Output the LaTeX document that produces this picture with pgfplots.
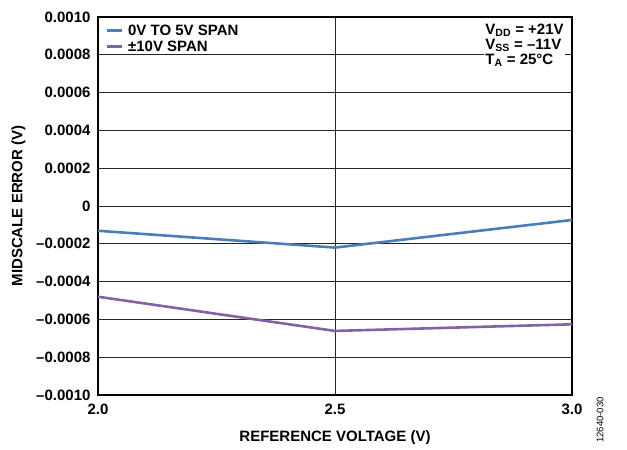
\documentclass[border=0pt]{standalone}
\usepackage{fontspec}
\setmainfont{Liberation Sans}
\usepackage{pgfplots}
\pgfplotsset{compat=1.18}
\definecolor{spanblue}{HTML}{4A7EBB}
\definecolor{spanpurple}{HTML}{7F63A6}
\begin{document}
\begin{tikzpicture}
\begin{axis}[
  scale only axis,
  width=474pt, height=378pt,
  xmin=2.0, xmax=3.0, ymin=-0.001, ymax=0.001,
  xtick={2.0,2.5,3.0},
  xticklabels={2.0,2.5,3.0},
  ytick={-0.001,-0.0008,-0.0006,-0.0004,-0.0002,0,0.0002,0.0004,0.0006,0.0008,0.001},
  yticklabels={--0.0010,--0.0008,--0.0006,--0.0004,--0.0002,0,0.0002,0.0004,0.0006,0.0008,0.0010},
  scaled y ticks=false,
  major tick length=0pt,
  grid=major,
  major grid style={black!85, line width=0.9pt},
  axis line style={black, line width=1.8pt},
  tick label style={font=\fontsize{15}{16}\selectfont\bfseries},
  xticklabel style={yshift=-5pt},
  yticklabel style={xshift=-4pt},
  xlabel={\textbf{REFERENCE VOLTAGE (V)}},
  ylabel={\textbf{MIDSCALE ERROR (V)}},
  label style={font=\fontsize{15}{16}\selectfont\bfseries},
  xlabel style={yshift=-10pt},
  ylabel style={yshift=4pt},
  legend style={at={(0.002,0.985)}, anchor=north west, draw=none, fill=white,
    font=\fontsize{15}{16}\selectfont\bfseries, row sep=4pt, column sep=4pt,
    inner xsep=6pt, inner ysep=1pt, cells={anchor=west},
    nodes={inner sep=1pt, text height=10.5pt, text depth=0pt}},
  legend image code/.code={\draw[#1, line width=3pt] (0pt,0pt) -- (15pt,0pt);},
]
\addplot[spanblue, line width=2.6pt] coordinates {
  (2.0,-0.000131) (2.5,-0.000220) (3.0,-0.000074)
};
\addlegendentry{0V TO 5V SPAN}
\addplot[spanpurple, line width=2.6pt] coordinates {
  (2.0,-0.000480) (2.5,-0.000661) (3.0,-0.000626)
};
\addlegendentry{±10V SPAN}
\node[anchor=north east, fill=white, inner sep=1pt, align=left,
  font=\fontsize{15}{15}\selectfont\bfseries]
  at (rel axis cs:0.985,0.985)
  {\lineskiplimit=-20pt\relax V\textsubscript{DD} = +21V\\ V\textsubscript{SS} = --11V\\ T\textsubscript{A} = 25°C};
\end{axis}
\path (current axis.south west) ++(-98pt,-55pt) coordinate (bbsw);
\node[rotate=90, anchor=center, font=\fontsize{9.5}{10}\selectfont]
  at ([xshift=600pt,yshift=30pt]bbsw) {12640-030};
\path[use as bounding box] (bbsw) rectangle ++(627pt,450pt);
\end{tikzpicture}
\end{document}
